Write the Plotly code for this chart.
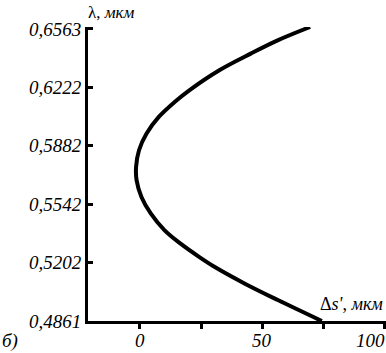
import plotly.graph_objects as go

# Data
wavelength = [0.4861, 0.4983, 0.5080, 0.5177, 0.5235, 0.5313, 0.5391, 0.5488, 0.5584, 0.5682,
              0.5759, 0.5856, 0.5953, 0.6050, 0.6137, 0.6205, 0.6322, 0.6419, 0.6496, 0.6574]
delta_s = [74.5, 56.5, 42.8, 30.5, 24.2, 16.5, 10.0, 4.4, 0.6, -1.4,
           -1.6, -0.4, 2.7, 7.7, 14.2, 20.2, 32.5, 45.4, 56.4, 69.7]

y_tickvals = [0.4861, 0.5202, 0.5542, 0.5882, 0.6222, 0.6563]
y_ticktext = ["0,4861", "0,5202", "0,5542", "0,5882", "0,6222", "0,6563"]
x_tickvals = [0, 25, 50, 75, 100]
x_labelvals = [0, 50, 100]
x_labeltext = ["0", "50", "100"]

FONT = "'Liberation Serif', 'Times New Roman', serif"

fig = go.Figure()
fig.add_trace(go.Scatter(
    x=delta_s, y=wavelength, mode="lines",
    line=dict(color="black", width=4, shape="spline", smoothing=1.0),
    hoverinfo="skip", showlegend=False,
))

fig.update_layout(
    width=386, height=353,
    margin=dict(l=88, r=0, t=27, b=32, autoexpand=False),
    paper_bgcolor="white", plot_bgcolor="white",
    showlegend=False,
    font=dict(family=FONT, color="black", size=19),
)

fig.update_xaxes(
    range=[-21.3, 100.8], showgrid=False, zeroline=False, automargin=False,
    showline=True, linecolor="black", linewidth=3,
    tickmode="array", tickvals=x_tickvals, showticklabels=False,
    ticks="outside", ticklen=5, tickwidth=3, tickcolor="black",
)
fig.update_yaxes(
    range=[0.4861, 0.6574], showgrid=False, zeroline=False, automargin=False,
    showline=True, linecolor="black", linewidth=3,
    tickmode="array", tickvals=y_tickvals, ticktext=y_ticktext,
    ticks="inside", ticklen=5, tickwidth=3, tickcolor="black",
    tickfont=dict(family=FONT, size=19, style="italic", color="black"),
)

# x tick labels (the last one is right-aligned at the page edge)
for v, t in zip(x_labelvals, x_labeltext):
    anchor = "right" if v == x_labelvals[-1] else "center"
    fig.add_annotation(
        x=v, y=0, xref="x", yref="paper", yshift=-19,
        xanchor=anchor, yanchor="middle", xshift=(3 if anchor == "right" else 0),
        text=f"<i>{t}</i>", showarrow=False,
        font=dict(family=FONT, size=19, color="black"),
    )

# axis titles and panel label
fig.add_annotation(
    x=0.0, y=1.0, xref="paper", yref="paper", xanchor="left", yanchor="bottom",
    xshift=-2, yshift=3, showarrow=False,
    text="λ, <i>мкм</i>", font=dict(family=FONT, size=17, color="black"),
)
fig.add_annotation(
    x=1.0, y=0.0, xref="paper", yref="paper", xanchor="right", yanchor="bottom",
    xshift=-1, yshift=5, showarrow=False,
    text="Δ<i>s'</i>, <i>мкм</i>", font=dict(family=FONT, size=18, color="black"),
)
fig.add_annotation(
    x=0.0, y=0.0, xref="paper", yref="paper", xanchor="left", yanchor="middle",
    xshift=-88, yshift=-20, showarrow=False,
    text="<i>б)</i>", font=dict(family=FONT, size=19, color="black"),
)

fig.write_html("out.html", config={"displayModeBar": False},
               post_script="document.body.style.margin='0';")
